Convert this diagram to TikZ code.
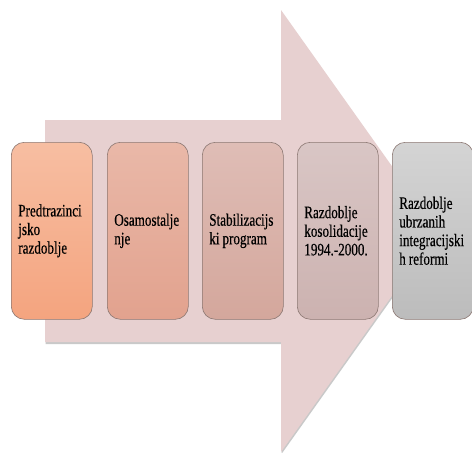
\documentclass[tikz,border=0pt]{standalone}
\usepackage{fontspec}
\newfontfamily\boxfont[FakeStretch=0.75, FakeBold=0.4]{Liberation Serif}
\usetikzlibrary{shadows}
\definecolor{arrowfill}{HTML}{E7D0D0}
\definecolor{boxline}{HTML}{8C7873}
\definecolor{aT}{HTML}{F7BEA2}\definecolor{aB}{HTML}{F4A47F}
\definecolor{bT}{HTML}{E9B8A8}\definecolor{bB}{HTML}{E2A28E}
\definecolor{cT}{HTML}{DFBDB6}\definecolor{cB}{HTML}{D4A79C}
\definecolor{dT}{HTML}{D9C6C5}\definecolor{dB}{HTML}{CCB2B0}
\definecolor{eT}{HTML}{D4D4D4}\definecolor{eB}{HTML}{BCBCBC}
\newcommand{\wsp}{\hspace{3pt}}
\tikzset{
  stagebox/.style={draw=boxline, line width=0.6pt, rounded corners=13pt,
    minimum width=81pt, minimum height=177pt, text width=67pt,
    inner xsep=7pt, inner ysep=0pt, align=left, anchor=north west,
    font=\boxfont\fontsize{17.5}{18.6}\selectfont},
  bigarrow/.style={fill=arrowfill, draw=none,
    drop shadow={shadow xshift=0.5pt, shadow yshift=-2pt, opacity=0.35, fill=black!60}}
}
\begin{document}
\begin{tikzpicture}[x=1pt, y=-1pt]
\useasboundingbox (0,0) rectangle (472,453);
\fill[white] (0,0) rectangle (472,453);
\path[bigarrow] (45,120) -- (281,120) -- (281,10) -- (438,231) -- (281,452)
  -- (281,342) -- (45,342) -- cycle;
\node[stagebox, top color=aT, bottom color=aB] (s1) at (11,142) {Predtrazinci\\jsko\\razdoblje};
\node[stagebox, top color=bT, bottom color=bB] (s2) at (107,142) {Osamostalje\\nje};
\node[stagebox, top color=cT, bottom color=cB] (s3) at (202,142) {Stabilizacijs\\ki\wsp program};
\node[stagebox, top color=dT, bottom color=dB] (s4) at (297,142) {Razdoblje\\kosolidacije\\1994.-2000.};
\node[stagebox, top color=eT, bottom color=eB] (s5) at (392,142) {Razdoblje\\ubrzanih\\integracijski\\h\wsp reformi};
\end{tikzpicture}
\end{document}
